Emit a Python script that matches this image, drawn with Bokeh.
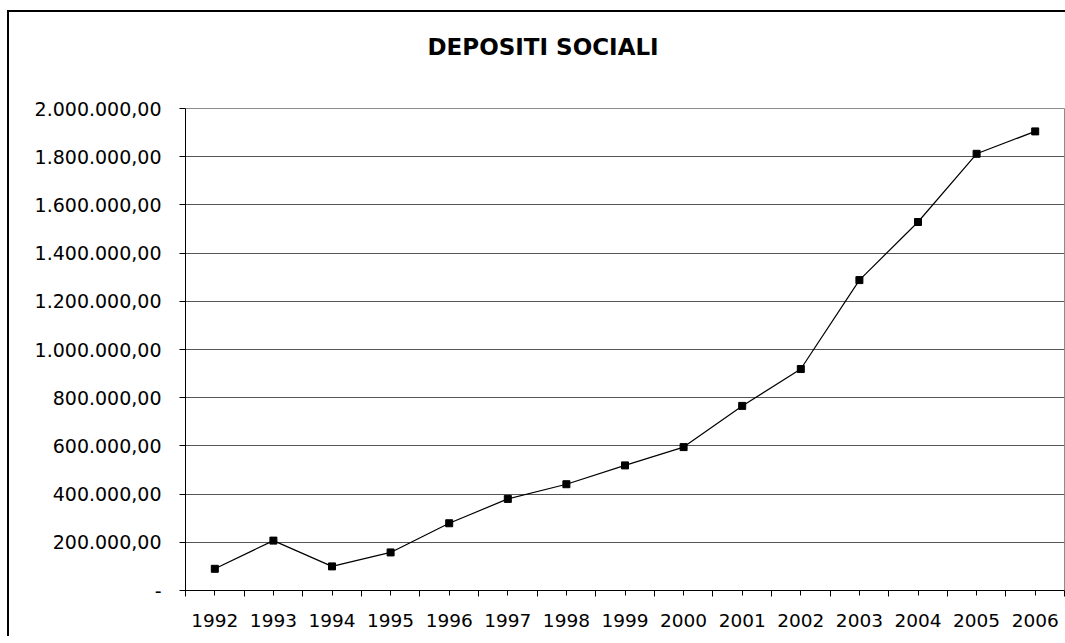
from bokeh.plotting import figure
from bokeh.layouts import column
from bokeh.models import FixedTicker, Range1d, Title
from bokeh.embed import file_html
from bokeh.resources import INLINE

years = ["1992", "1993", "1994", "1995", "1996", "1997", "1998", "1999",
         "2000", "2001", "2002", "2003", "2004", "2005", "2006"]
depositi = [90000, 207000, 100000, 158000, 279000, 380000, 441000, 519000,
            595000, 766000, 919000, 1288000, 1529000, 1812000, 1905000]
y_ticks = [0, 200000, 400000, 600000, 800000, 1000000, 1200000, 1400000,
           1600000, 1800000, 2000000]
y_labels = ["-", "200.000,00", "400.000,00", "600.000,00", "800.000,00",
            "1.000.000,00", "1.200.000,00", "1.400.000,00", "1.600.000,00",
            "1.800.000,00", "2.000.000,00"]
title_text = "DEPOSITI SOCIALI"

xs = [i + 0.5 for i in range(len(years))]

p = figure(width=1056, height=624, output_backend="svg", toolbar_location=None,
           x_range=Range1d(0, len(years)), y_range=Range1d(0, 2000000),
           min_border_left=176, min_border_right=1, min_border_top=96,
           min_border_bottom=46)

p.title.text = title_text
p.title.align = "left"
p.title.offset = 242
p.title.text_font = "DejaVu Sans"
p.title.text_font_size = "23px"
p.title.text_font_style = "bold"
p.title.text_color = "#000"
p.title.standoff = 0

spacer = Title(text=" ", text_font_size="10px", standoff=36)
p.add_layout(spacer, "above")

p.line(xs, depositi, line_color="#000", line_width=1.2)
p.scatter(xs, depositi, marker="square", size=7, fill_color="#000",
          line_color="#000")

p.outline_line_color = "#8c8c8c"
p.outline_line_width = 1
p.background_fill_color = "#fff"
p.border_fill_color = "#fff"

p.xgrid.grid_line_color = None
p.ygrid.grid_line_color = "#555"
p.ygrid.grid_line_width = 1
p.ygrid.ticker = FixedTicker(ticks=y_ticks)

p.yaxis.ticker = FixedTicker(ticks=y_ticks)
p.yaxis.major_label_overrides = {t_: l for t_, l in zip(y_ticks, y_labels)}
p.yaxis.major_label_text_font = "DejaVu Sans"
p.yaxis.major_label_text_font_size = "19px"
p.yaxis.major_label_text_color = "#000"
p.yaxis.major_label_standoff = 18
p.yaxis.major_tick_out = 6
p.yaxis.major_tick_in = 0
p.yaxis.minor_tick_out = 0
p.yaxis.axis_line_color = "#000"
p.yaxis.major_tick_line_color = "#000"

p.xaxis.ticker = FixedTicker(ticks=xs, minor_ticks=list(range(len(years) + 1)))
p.xaxis.major_label_overrides = {x: y for x, y in zip(xs, years)}
p.xaxis.major_label_text_font = "DejaVu Sans"
p.xaxis.major_label_text_font_size = "18.5px"
p.xaxis.major_label_text_color = "#000"
p.xaxis.major_label_standoff = 17
p.xaxis.major_tick_out = 5
p.xaxis.major_tick_in = 0
p.xaxis.minor_tick_out = 6
p.xaxis.minor_tick_in = 0
p.xaxis.axis_line_color = "#000"
p.xaxis.major_tick_line_color = "#000"
p.xaxis.minor_tick_line_color = "#000"

layout = column(p)
layout.styles = {"margin-left": "7px", "margin-top": "10px",
                 "border-left": "2px solid #000", "border-top": "2px solid #000"}

open("out.html", "w").write(file_html(layout, INLINE))
